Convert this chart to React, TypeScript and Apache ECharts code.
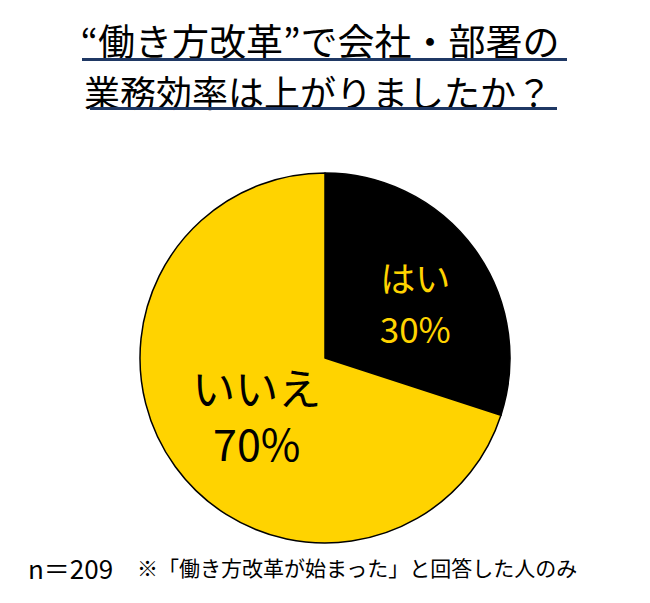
import React, { useEffect, useRef } from "react";
import * as echarts from "echarts";

const titleLines = ["“働き方改革”で会社・部署の", "業務効率は上がりましたか？"];
const categories = ["はい", "いいえ"];
const values = [30, 70];
const colors = ["#000000", "#FFD300"];
const labelColors = ["#FFD300", "#000000"];
const sampleNote = "n＝209";
const footnote = "※「働き方改革が始まった」と回答した人のみ";

const FONT = "'Noto Sans CJK JP', 'Noto Sans', sans-serif";

export default function App() {
  const ref = useRef<HTMLDivElement>(null);
  useEffect(() => {
    if (!ref.current) return;
    const chart = echarts.init(ref.current, undefined, { renderer: "svg" });
    chart.setOption({
      animation: false,
      backgroundColor: "#ffffff",
      graphic: [
        {
          type: "text",
          style: {
            x: 320,
            y: 40,
            align: "center",
            verticalAlign: "middle",
            text: titleLines[0],
            font: `37px ${FONT}`,
            fill: "#000",
          },
        },
        {
          type: "line",
          shape: { x1: 82, y1: 59.5, x2: 567, y2: 59.5 },
          style: { stroke: "#1F3864", lineWidth: 3 },
        },
        {
          type: "text",
          style: {
            x: 318,
            y: 91,
            align: "center",
            verticalAlign: "middle",
            text: titleLines[1],
            font: `36px ${FONT}`,
            fill: "#000",
          },
        },
        {
          type: "line",
          shape: { x1: 90, y1: 108.5, x2: 557, y2: 108.5 },
          style: { stroke: "#1F3864", lineWidth: 3 },
        },
        {
          type: "text",
          style: {
            x: 28,
            y: 567,
            verticalAlign: "middle",
            text: sampleNote,
            font: `26px ${FONT}`,
            fill: "#000",
          },
        },
        {
          type: "text",
          style: {
            x: 137,
            y: 567,
            verticalAlign: "middle",
            text: footnote,
            font: `21px ${FONT}`,
            fill: "#000",
          },
        },
      ],
      series: [
        {
          type: "pie",
          center: [325, 358],
          radius: [0, 185],
          startAngle: 90,
          clockwise: true,
          label: {
            show: true,
            position: "inside",
            fontFamily: FONT,
          },
          labelLine: { show: false },
          emphasis: { disabled: true },
          itemStyle: { borderColor: "#000", borderWidth: 1.5 },
          data: categories.map((name, i) => ({
            name,
            value: values[i],
            itemStyle: { color: colors[i] },
            label:
              i === 0
                ? {
                    formatter: "{b}\n{c}%",
                    color: labelColors[i],
                    fontSize: 35,
                    lineHeight: 51,
                    padding: [0, 0, 9, 26],
                  }
                : {
                    formatter: "{b}\n{c}%",
                    color: labelColors[i],
                    fontSize: 43,
                    lineHeight: 56,
                    padding: [28, 0, 0, 18],
                  },
          })),
        },
      ],
    });
    return () => chart.dispose();
  }, []);
  return (
    <div
      ref={ref}
      style={{ position: "fixed", left: 0, top: 0, width: 650, height: 603 }}
    />
  );
}
